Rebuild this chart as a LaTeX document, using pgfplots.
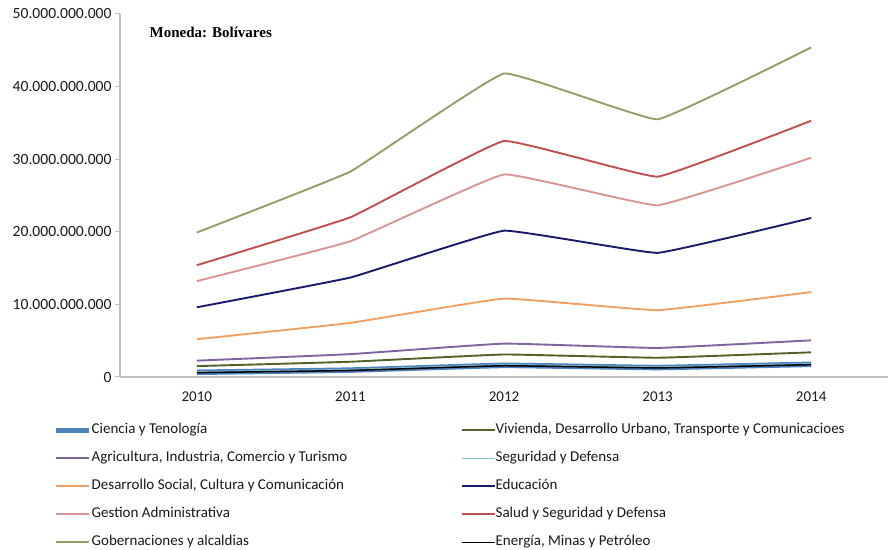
\documentclass[border=0pt]{standalone}
\usepackage{fontspec}
\setmainfont{Carlito}
\newfontfamily\serifb{Liberation Serif}
\usepackage{pgfplots}
\pgfplotsset{compat=1.18}
\definecolor{cGob}{HTML}{9A9A68}
\definecolor{cSal}{HTML}{C0504D}
\definecolor{cGes}{HTML}{D99594}
\definecolor{cEdu}{HTML}{1A1A6A}
\definecolor{cDes}{HTML}{F2A062}
\definecolor{cAgr}{HTML}{7F64A0}
\definecolor{cViv}{HTML}{4F6228}
\definecolor{cSeg}{HTML}{7FBFD0}
\definecolor{cCie}{HTML}{4F81BD}
\definecolor{cAx}{HTML}{BFBFBF}
\begin{document}
\begin{tikzpicture}
\begin{axis}[
  scale only axis,
  width=768bp, height=363bp,
  xmin=2009.5, xmax=2014.5,
  ymin=0, ymax=50,
  axis x line*=bottom, axis y line*=left,
  axis line style={cAx, line width=1.2bp},
  tick align=outside,
  xtick={2010,2011,2012,2013,2014},
  xticklabels={2010,2011,2012,2013,2014},
  x tick style={draw=none},
  extra x ticks={2010.5,2011.5,2012.5,2013.5},
  extra x tick labels={},
  extra x tick style={major tick length=5bp, tick style={cAx, line width=1bp, draw=cAx}},
  ytick={0,10,20,30,40,50},
  yticklabels={0,10.000.000.000,20.000.000.000,30.000.000.000,40.000.000.000,50.000.000.000},
  y tick style={cAx, line width=1bp},
  major tick length=5bp,
  ytick pos=left, xtick pos=bottom,
  tick label style={font=\fontsize{15bp}{18bp}\selectfont, text=black!90},
  yticklabel style={font=\fontsize{15.6bp}{18bp}\selectfont},
  xticklabel style={yshift=-6bp},
  every axis plot/.append style={line width=1.9bp, smooth, tension=0.15},
  legend columns=2,
  legend cell align=left,
  legend image code/.code={\draw[#1,smooth=false] (0bp,0bp) -- (33bp,0bp);},
  legend style={draw=none, fill=none, at={(-0.0872,-0.126)}, anchor=north west,
    inner sep=0pt, column sep=0pt, row sep=13bp,
    font=\fontsize{15bp}{18bp}\selectfont,
    nodes={inner sep=0pt, text height=11bp, text depth=4bp, text=black!90}},
  clip=false,
]
\addplot[cCie, line width=5.5bp] coordinates {(2010,0.65) (2011,0.95) (2012,1.6) (2013,1.3) (2014,1.75)};
\addlegendentry{\makebox[369bp][l]{Ciencia y Tenología}}
\addplot[cViv] coordinates {(2010,1.5) (2011,2.1) (2012,3.1) (2013,2.65) (2014,3.4)};
\addlegendentry{Vivienda, Desarrollo Urbano, Transporte y Comunicacioes}
\addplot[cAgr] coordinates {(2010,2.25) (2011,3.15) (2012,4.6) (2013,4.0) (2014,5.05)};
\addlegendentry{\makebox[369bp][l]{Agricultura, Industria, Comercio y Turismo}}
\addplot[cSeg, line width=1bp] coordinates {(2010,0.75) (2011,1.05) (2012,1.7) (2013,1.4) (2014,1.85)};
\addlegendentry{Seguridad y Defensa}
\addplot[cDes] coordinates {(2010,5.2) (2011,7.45) (2012,10.8) (2013,9.2) (2014,11.7)};
\addlegendentry{\makebox[369bp][l]{Desarrollo Social, Cultura y Comunicación}}
\addplot[cEdu] coordinates {(2010,9.6) (2011,13.7) (2012,20.15) (2013,17.1) (2014,21.9)};
\addlegendentry{Educación}
\addplot[cGes] coordinates {(2010,13.2) (2011,18.7) (2012,27.9) (2013,23.65) (2014,30.2)};
\addlegendentry{\makebox[369bp][l]{Gestion Administrativa}}
\addplot[cSal] coordinates {(2010,15.4) (2011,22.0) (2012,32.5) (2013,27.6) (2014,35.3)};
\addlegendentry{Salud y Seguridad y Defensa}
\addplot[cGob] coordinates {(2010,19.9) (2011,28.3) (2012,41.8) (2013,35.5) (2014,45.4)};
\addlegendentry{\makebox[369bp][l]{Gobernaciones y alcaldias}}
\addplot[black, line width=1.5bp] coordinates {(2010,0.6) (2011,0.9) (2012,1.55) (2013,1.25) (2014,1.7)};
\addlegendentry{Energía, Minas y Petróleo}
\node[anchor=west, font=\serifb\bfseries\fontsize{15bp}{17bp}\selectfont] at (axis description cs:0.034,0.948) {Moneda: Bolívares};
\coordinate (bl) at (axis description cs:0,0);
\coordinate (tr) at (axis description cs:1,1);
\end{axis}
\useasboundingbox ([xshift=-120bp,yshift=-171bp]bl) rectangle ([xshift=2bp,yshift=14bp]tr);
\end{tikzpicture}
\end{document}
